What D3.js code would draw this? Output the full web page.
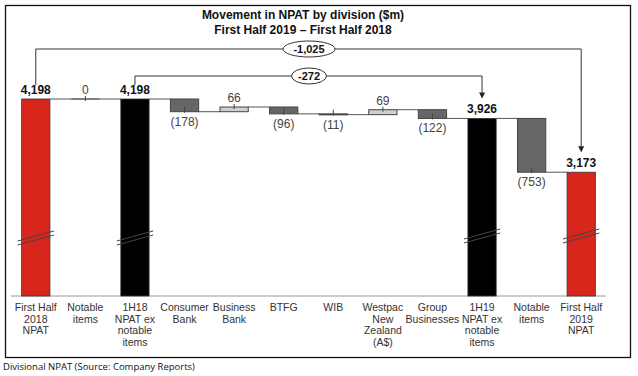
<!DOCTYPE html>
<html>
<head>
<meta charset="utf-8">
<script src="https://cdn.jsdelivr.net/npm/d3@7"></script>
<style>
  body { margin: 0; background: #fff; }
  svg { display: block; }
</style>
</head>
<body>
<div id="chart"></div>
<script>
const width = 638, height = 376;

// data
const categories = ["First Half 2018 NPAT", "Notable items", "1H18 NPAT ex notable items", "Consumer Bank", "Business Bank",
  "BTFG", "WIB", "Westpac New Zealand (A$)", "Group Businesses", "1H19 NPAT ex notable items", "Notable items 2", "First Half 2019 NPAT"];
const labelLines = [["First Half", "2018", "NPAT"], ["Notable", "items"], ["1H18", "NPAT ex", "notable", "items"],
  ["Consumer", "Bank"], ["Business", "Bank"], ["BTFG"], ["WIB"], ["Westpac", "New", "Zealand", "(A$)"],
  ["Group", "Businesses"], ["1H19", "NPAT ex", "notable", "items"], ["Notable", "items"], ["First Half", "2019", "NPAT"]];
const values = [4198, 0, 4198, -178, 66, -96, -11, 69, -122, 3926, -753, 3173];
const kinds = ["total", "delta", "total", "delta", "delta", "delta", "delta", "delta", "delta", "total", "delta", "total"];
const valueLabels = ["4,198", "0", "4,198", "(178)", "66", "(96)", "(11)", "69", "(122)", "3,926", "(753)", "3,173"];
const totalColors = {0: "#d9261c", 2: "#000000", 9: "#000000", 11: "#d9261c"};
const bridges = [{from: 0, to: 11, text: "-1,025", top: 49, rx: 26}, {from: 2, to: 9, text: "-272", top: 76, rx: 17.5}];

const axisBase = 1440;

// build waterfall rows
let running = 0;
const rows = categories.map((c, i) => {
  let start, end;
  if (kinds[i] === "total") { start = axisBase; end = values[i]; running = values[i]; }
  else { start = running; end = running + values[i]; running = end; }
  return {cat: c, i: i, v: values[i], kind: kinds[i], start: start, end: end};
});

const svg = d3.select("#chart").append("svg")
  .attr("width", width).attr("height", height)
  .style("font-family", "Arial, 'Liberation Sans', sans-serif");

svg.append("rect").attr("x", 5.5).attr("y", 5.5).attr("width", 625).attr("height", 352)
  .attr("fill", "#fff").attr("stroke", "#111").attr("stroke-width", 1.3);

const x = d3.scaleBand().domain(categories).range([11, 606]).paddingInner(0.43).paddingOuter(0.215);
const y = d3.scaleLinear().domain([axisBase, 4198]).range([296, 99]);
const bw = x.bandwidth();
const cx = d => x(d) + bw / 2;

// title
svg.append("text").attr("x", 303).attr("y", 19).attr("text-anchor", "middle")
  .style("font-size", "12px").style("font-weight", "bold").attr("fill", "#111")
  .text("Movement in NPAT by division ($m)");
svg.append("text").attr("x", 303).attr("y", 34).attr("text-anchor", "middle")
  .style("font-size", "12px").style("font-weight", "bold").attr("fill", "#111")
  .text("First Half 2019 \u2013 First Half 2018");

// baseline
svg.append("line").attr("x1", 11).attr("x2", 606).attr("y1", y(axisBase)).attr("y2", y(axisBase))
  .attr("stroke", "#999").attr("stroke-width", 1.2);

// connectors
for (let i = 0; i < rows.length - 1; i++) {
  const lvl = rows[i].end;
  svg.append("line")
    .attr("x1", x(rows[i].cat) + (rows[i].v === 0 ? 0 : bw)).attr("x2", x(rows[i + 1].cat))
    .attr("y1", y(lvl)).attr("y2", y(lvl))
    .attr("stroke", "#555").attr("stroke-width", 1);
}
// line across zero bar
rows.filter(d => d.v === 0).forEach(d => {
  svg.append("line").attr("x1", x(d.cat)).attr("x2", x(d.cat) + bw)
    .attr("y1", y(d.end)).attr("y2", y(d.end)).attr("stroke", "#555");
});

// bars
svg.selectAll("rect.bar").data(rows.filter(d => d.v !== 0)).join("rect")
  .attr("class", "bar")
  .attr("x", d => x(d.cat))
  .attr("width", bw)
  .attr("y", d => y(Math.max(d.start, d.end)))
  .attr("height", d => Math.max(1, Math.abs(y(d.start) - y(d.end))))
  .attr("fill", d => d.kind === "total" ? totalColors[d.i] : (d.v > 0 ? "#cfcfcf" : "#666"))
  .attr("stroke", d => d.kind === "total" ? "#333" : "#444")
  .attr("stroke-width", d => d.kind === "total" ? 0.8 : 1);

// break marks on totals
rows.filter(d => d.kind === "total").forEach(d => {
  const bx = x(d.cat), by = d.i < 5 ? 236 : 234;
  [0, 4].forEach(off => {
    svg.append("line").attr("x1", bx - 4).attr("x2", bx + bw + 4)
      .attr("y1", by + 5 + off).attr("y2", by - 5 + off)
      .attr("stroke", "#444").attr("stroke-width", 1);
  });
});

// small label ticks on deltas
rows.filter(d => d.kind === "delta").forEach(d => {
  const edge = y(d.end);
  svg.append("line").attr("x1", cx(d.cat)).attr("x2", cx(d.cat))
    .attr("y1", d.v < 0 ? edge - 5 : edge - 3).attr("y2", d.v < 0 ? edge + 1 : edge + 2)
    .attr("stroke", "#444").attr("stroke-width", 1);
});

// value labels
svg.selectAll("text.val").data(rows).join("text")
  .attr("class", "val")
  .attr("x", d => cx(d.cat))
  .attr("y", d => {
    if (d.kind === "total") return y(d.end) - 5;
    if (d.v < 0) return y(d.end) + 14;
    return y(d.end) - 5;
  })
  .attr("text-anchor", "middle")
  .style("font-size", "12px")
  .style("font-weight", d => d.kind === "total" ? "bold" : "normal")
  .attr("fill", d => d.kind === "total" ? "#111" : "#444")
  .text((d, i) => valueLabels[i]);

// category labels
labelLines.forEach((lines, i) => {
  const t = svg.append("text").attr("x", cx(categories[i])).attr("y", 311)
    .attr("text-anchor", "middle").style("font-size", "10.5px").attr("fill", "#333");
  lines.forEach((l, j) => t.append("tspan").attr("x", cx(categories[i])).attr("dy", j === 0 ? 0 : 11.7).text(l));
});

// bridge annotations
bridges.forEach(b => {
  const x1 = cx(categories[b.from]), x2 = cx(categories[b.to]);
  const mid = 309;
  const yStart = y(values[b.from]) - 14;
  const yEnd = y(values[b.to]) - 20;
  svg.append("path")
    .attr("d", `M${x1},${yStart} V${b.top} H${x2} V${yEnd - 5}`)
    .attr("fill", "none").attr("stroke", "#333").attr("stroke-width", 1);
  svg.append("path")
    .attr("d", `M${x2 - 3},${yEnd - 6} L${x2 + 3},${yEnd - 6} L${x2},${yEnd} Z`)
    .attr("fill", "#222");
  svg.append("ellipse").attr("cx", mid).attr("cy", b.top).attr("rx", b.rx).attr("ry", 8)
    .attr("fill", "#fff").attr("stroke", "#333").attr("stroke-width", 1);
  svg.append("text").attr("x", mid).attr("y", b.top + 4).attr("text-anchor", "middle")
    .style("font-size", "11px").style("font-weight", "bold").attr("fill", "#111").text(b.text);
});

// caption
svg.append("text").attr("x", 3).attr("y", 370)
  .style("font-family", "'Open Sans', 'Liberation Sans', sans-serif").style("font-size", "9.5px").attr("fill", "#111")
  .text("Divisional NPAT (Source: Company Reports)");
</script>
</body>
</html>
